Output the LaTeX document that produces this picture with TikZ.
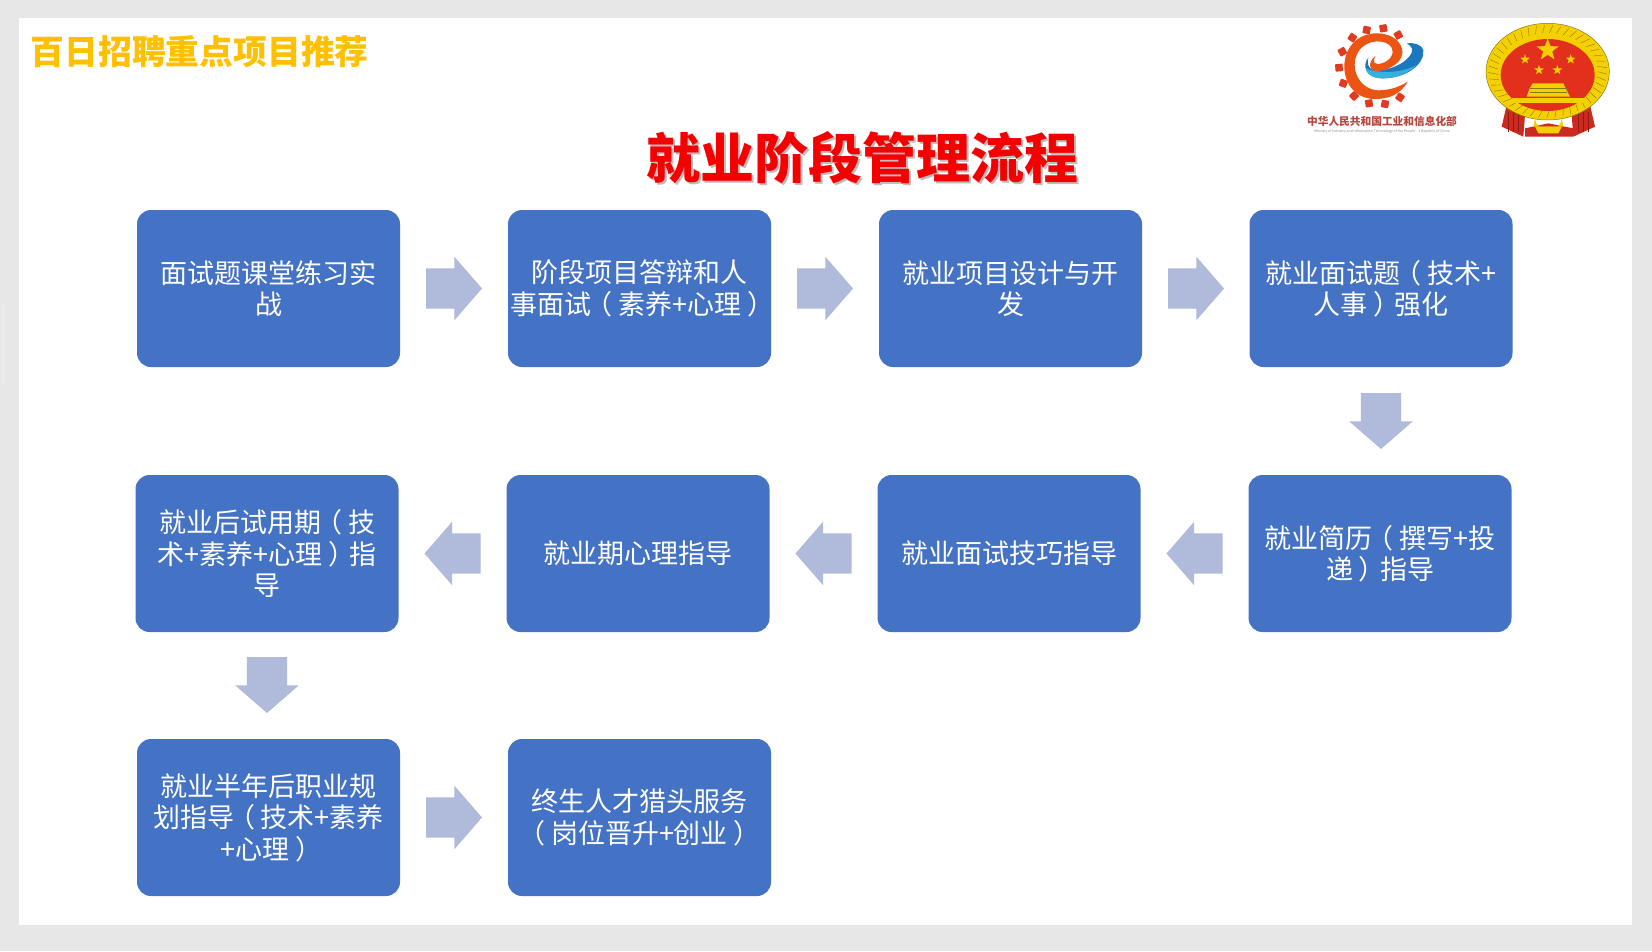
\documentclass[tikz,border=0pt]{standalone}
\usepackage{fontspec}
\setmainfont{Noto Sans CJK SC}
\newfontfamily\titlefont{Noto Sans CJK SC Black}
\newcommand{\lparen}{\mbox{\kern-.22em（\kern.22em}}
\newcommand{\rparen}{\mbox{\kern.22em）\kern-.22em}}
\usetikzlibrary{arrows.meta,positioning,calc,shapes.geometric,shapes.arrows}
\usepackage{xcolor}
\definecolor{frame}{HTML}{E7E7E7}
\definecolor{faint}{HTML}{EBEBEB}
\definecolor{stage}{HTML}{4472C4}
\definecolor{flow}{HTML}{B0BBDB}
\definecolor{heading}{HTML}{FFC000}
\definecolor{banner}{HTML}{F40000}
\definecolor{bannershade}{HTML}{BDBDBD}
\definecolor{gearred}{HTML}{DE3B22}
\definecolor{swirl}{HTML}{EC5413}
\definecolor{swoosh}{HTML}{1B78BE}
\definecolor{swooshlight}{HTML}{38B0DE}
\definecolor{ministry}{HTML}{B5473F}
\definecolor{ministrygrey}{HTML}{8C8C8C}
\definecolor{emblemred}{HTML}{E2301C}
\definecolor{ribbon}{HTML}{CC2A1E}
\definecolor{ribbonfold}{HTML}{8F1A12}
\definecolor{emblemgold}{HTML}{F5D000}
\definecolor{emblemdark}{HTML}{8A7A10}
\tikzset{
  stagebox/.style={fill=stage,rounded corners=14pt,minimum width=263pt,minimum height=157pt,align=center,inner sep=0pt,outer sep=0pt,text=white,font=\fontsize{27}{31.5}\selectfont},
  flowarrow/.style={single arrow,fill=flow,inner xsep=0pt,inner ysep=20pt,outer sep=0pt,minimum height=56pt,single arrow head extend=11.5pt,single arrow tip angle=98,anchor=tail},
  rightflow/.style={flowarrow},
  leftflow/.style={flowarrow,rotate=180},
  downflow/.style={flowarrow,rotate=-90},
  tooth/.style={fill=gearred,minimum size=7.5pt,inner sep=0pt,rounded corners=0.8pt},
  goldstar/.style={star,star points=5,star point ratio=2.4,fill=emblemgold,inner sep=0pt},
}
\begin{document}
\begin{tikzpicture}[x=1pt,y=-1pt,node distance=108pt]

\useasboundingbox (0,0) rectangle (1652,951);
\fill[frame] (0,0) rectangle (1652,951);
\fill[faint] (1,303) rectangle (5,383);
\fill[white] (19,18) rectangle (1632,925);

\node[anchor=west,inner sep=0pt,text=heading,font=\fontsize{33.8}{36}\titlefont] (heading) at (30.5,52) {百日招聘重点项目推荐};
\node[inner sep=0pt,text=bannershade,font=\fontsize{54}{58}\titlefont] (bannershade) at (864,160) {就业阶段管理流程};
\node[inner sep=0pt,text=banner,font=\fontsize{54}{58}\titlefont] (banner) at (862,158) {就业阶段管理流程};

\node[stagebox] (stage1) at (268.5,288.5) {面试题课堂练习实\\战};
\node[stagebox,right=of stage1] (stage2) {阶段项目答辩和人\\事面试\lparen 素养+心理\rparen};
\node[stagebox,right=of stage2] (stage3) {就业项目设计与开\\发};
\node[stagebox,right=of stage3,xshift=-0.5pt] (stage4) {就业面试题\lparen 技术+\\人事\rparen 强化};
\node[stagebox,below=of stage4,xshift=-1pt] (stage5) {就业简历\lparen 撰写+投\\递\rparen 指导};
\node[stagebox,left=of stage5] (stage6) {就业面试技巧指导};
\node[stagebox,left=of stage6] (stage7) {就业期心理指导};
\node[stagebox,left=of stage7] (stage8) {就业后试用期\lparen 技\\术+素养+心理\rparen 指\\导};
\node[stagebox,below=107pt of stage8,xshift=1.5pt] (stage9) {就业半年后职业规\\划指导\lparen 技术+素养\\+心理\rparen};
\node[stagebox,right=of stage9] (stage10) {终生人才猎头服务\\\lparen 岗位晋升+创业\rparen};

\node[rightflow,right=26pt of stage1.east,anchor=tail] (flow1) {};
\node[rightflow,right=26pt of stage2.east,anchor=tail] (flow2) {};
\node[rightflow,right=26pt of stage3.east,anchor=tail] (flow3) {};
\node[downflow,below=26pt of stage4.south,anchor=tail] (flow4) {};
\node[leftflow,left=26pt of stage5.west,anchor=tail] (flow5) {};
\node[leftflow,left=26pt of stage6.west,anchor=tail] (flow6) {};
\node[leftflow,left=26pt of stage7.west,anchor=tail] (flow7) {};
\node[downflow,below=25pt of stage8.south,anchor=tail] (flow8) {};
\node[rightflow,right=26pt of stage9.east,anchor=tail] (flow9) {};

\begin{scope}[xshift=1325pt,yshift=-15pt,x=0.3333pt,y=-0.3333pt]
\foreach \tx/\ty/\ta [count=\i] in {220/60/30,175/40/10,125/45/-10,82/68/-35,52/110/-60,42/158/-85,55/205/-110,87/243/-135,132/265/-170,180/267/170,225/247/145}
  \node[tooth,rotate=\ta] (tooth\i) at (\tx,\ty) {};
\fill[swoosh] (130,128) .. controls (112,150) and (118,190) .. (175,190) .. controls (240,190) and (300,150) .. (295,105) .. controls (290,88) and (265,82) .. (245,85) .. controls (262,95) and (270,105) .. (250,128) .. controls (225,155) and (175,170) .. (145,165) .. controls (130,160) and (125,145) .. (130,128) -- cycle;
\fill[swooshlight] (122,160) .. controls (128,185) and (150,190) .. (175,190) .. controls (210,190) and (250,175) .. (275,150) .. controls (240,170) and (170,180) .. (122,160) -- cycle;
\fill[swirl] (248,200) .. controls (225,240) and (190,252) .. (150,252) .. controls (95,252) and (58,210) .. (58,155) .. controls (58,95) and (100,55) .. (155,55) .. controls (205,55) and (235,85) .. (232,115) .. controls (228,150) and (180,170) .. (150,168) .. controls (135,166) and (125,145) .. (152,122) .. controls (140,145) and (150,150) .. (170,145) .. controls (195,138) and (210,115) .. (200,98) .. controls (185,72) and (125,70) .. (100,110) .. controls (70,160) and (105,225) .. (160,226) .. controls (195,226) and (225,215) .. (248,200) -- cycle;
\end{scope}
\node[inner sep=0pt,text=ministry,font=\fontsize{10.7}{12}\selectfont\bfseries] (ministryname) at (1382,121) {中华人民共和国工业和信息化部};
\node[inner sep=0pt,text=ministrygrey,font=\fontsize{3.5}{4}\selectfont] (ministryline) at (1382,131) {Ministry of Industry and Information Technology of the People's Republic of China};

\begin{scope}[xshift=1480pt,yshift=-15pt,x=0.3333pt,y=-0.3333pt]
\fill[ribbon] (80,270) -- (65,335) -- (130,365) -- (135,300) -- cycle;
\fill[ribbon] (330,270) -- (345,335) -- (280,365) -- (275,300) -- cycle;
\fill[ribbon] (135,340) -- (205,325) -- (280,340) -- (280,365) -- (135,365) -- cycle;
\foreach \fx in {85,100,115}
  \draw[ribbonfold,line width=0.8pt] (\fx,290) -- (\fx,352);
\foreach \fx in {295,310,325}
  \draw[ribbonfold,line width=0.8pt] (\fx,290) -- (\fx,352);
\fill[emblemgold,draw=emblemdark,line width=0.5pt] (203,170) ellipse [x radius=185,y radius=145];
\foreach \a in {0,8,...,352}
  \draw[emblemdark,line width=0.4pt] ({203+150*cos(\a)},{170+116*sin(\a)}) -- ({203+178*cos(\a+3)},{170+139*sin(\a+3)});
\fill[emblemred] (203,180) ellipse [x radius=141,y radius=108];
\node[goldstar,minimum size=23pt] (bigstar) at (203,105) {};
\foreach \sx/\sy [count=\i] in {135/133,272/133,177/165,232/165}
  \node[goldstar,minimum size=10pt] (smallstar\i) at (\sx,\sy) {};
\fill[emblemgold] (158,205) -- (250,205) -- (258,222) -- (270,245) -- (140,245) -- (148,222) -- cycle;
\foreach \gy in {220,232}
  \draw[emblemdark,line width=0.5pt] (150,\gy) -- (260,\gy);
\fill[emblemgold] (97,250) rectangle (315,265);
\fill[emblemgold] (165,310) arc[start angle=180,end angle=0,x radius=40,y radius=35] -- (250,335) -- (160,335) -- cycle;
\fill[emblemgold] (165,335) -- (245,335) -- (235,355) -- (175,355) -- cycle;
\end{scope}

\end{tikzpicture}
\end{document}
